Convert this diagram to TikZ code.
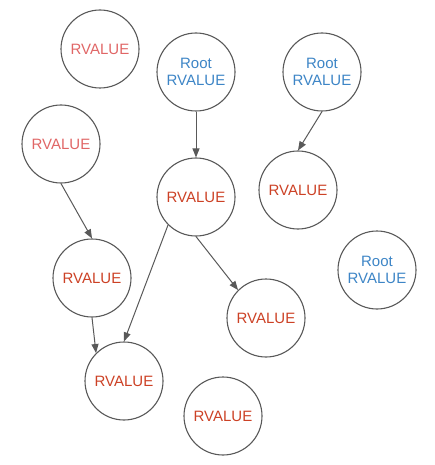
\documentclass[tikz,border=0pt]{standalone}
\usepackage{fontspec}
\setmainfont{Liberation Sans}
\usetikzlibrary{arrows.meta}
\definecolor{lightred}{HTML}{E06666}
\definecolor{darkred}{HTML}{CC4125}
\definecolor{rootblue}{HTML}{3D85C6}
\definecolor{edgegray}{HTML}{595959}
\tikzset{
  vnode/.style={circle, draw=edgegray, line width=1.1pt, minimum size=78pt, inner sep=0pt, align=center, font=\fontsize{15}{17}\selectfont},
  lightv/.style={vnode, text=lightred},
  darkv/.style={vnode, text=darkred},
  rootv/.style={vnode, text=rootblue},
  conn/.style={draw=edgegray, line width=1pt, -{Triangle[length=9pt,width=7pt]}}
}
\begin{document}
\begin{tikzpicture}[x=1pt,y=-1pt]
\useasboundingbox (0,0) rectangle (435,465);
\node[lightv] (a) at (100,49) {RVALUE};
\node[rootv] (r1) at (196,72) {Root\\RVALUE};
\node[rootv] (r2) at (322,72) {Root\\RVALUE};
\node[lightv] (b) at (61,144) {RVALUE};
\node[darkv] (m) at (196,197) {RVALUE};
\node[darkv] (c) at (298,190) {RVALUE};
\node[rootv] (r3) at (377,270) {Root\\RVALUE};
\node[darkv] (d) at (92,278) {RVALUE};
\node[darkv] (e) at (266,318) {RVALUE};
\node[darkv] (f) at (124,381) {RVALUE};
\node[darkv] (g) at (223,416) {RVALUE};
\draw[conn] (r1.south) -- (m.north);
\draw[conn] (r2.south) -- (c.north);
\draw[conn] (b.south) -- (d.north);
\draw[conn] (m.south west) -- (f.north);
\draw[conn] (m.south) -- (e.north west);
\draw[conn] (d.south) -- (f.north west);
\end{tikzpicture}
\end{document}
